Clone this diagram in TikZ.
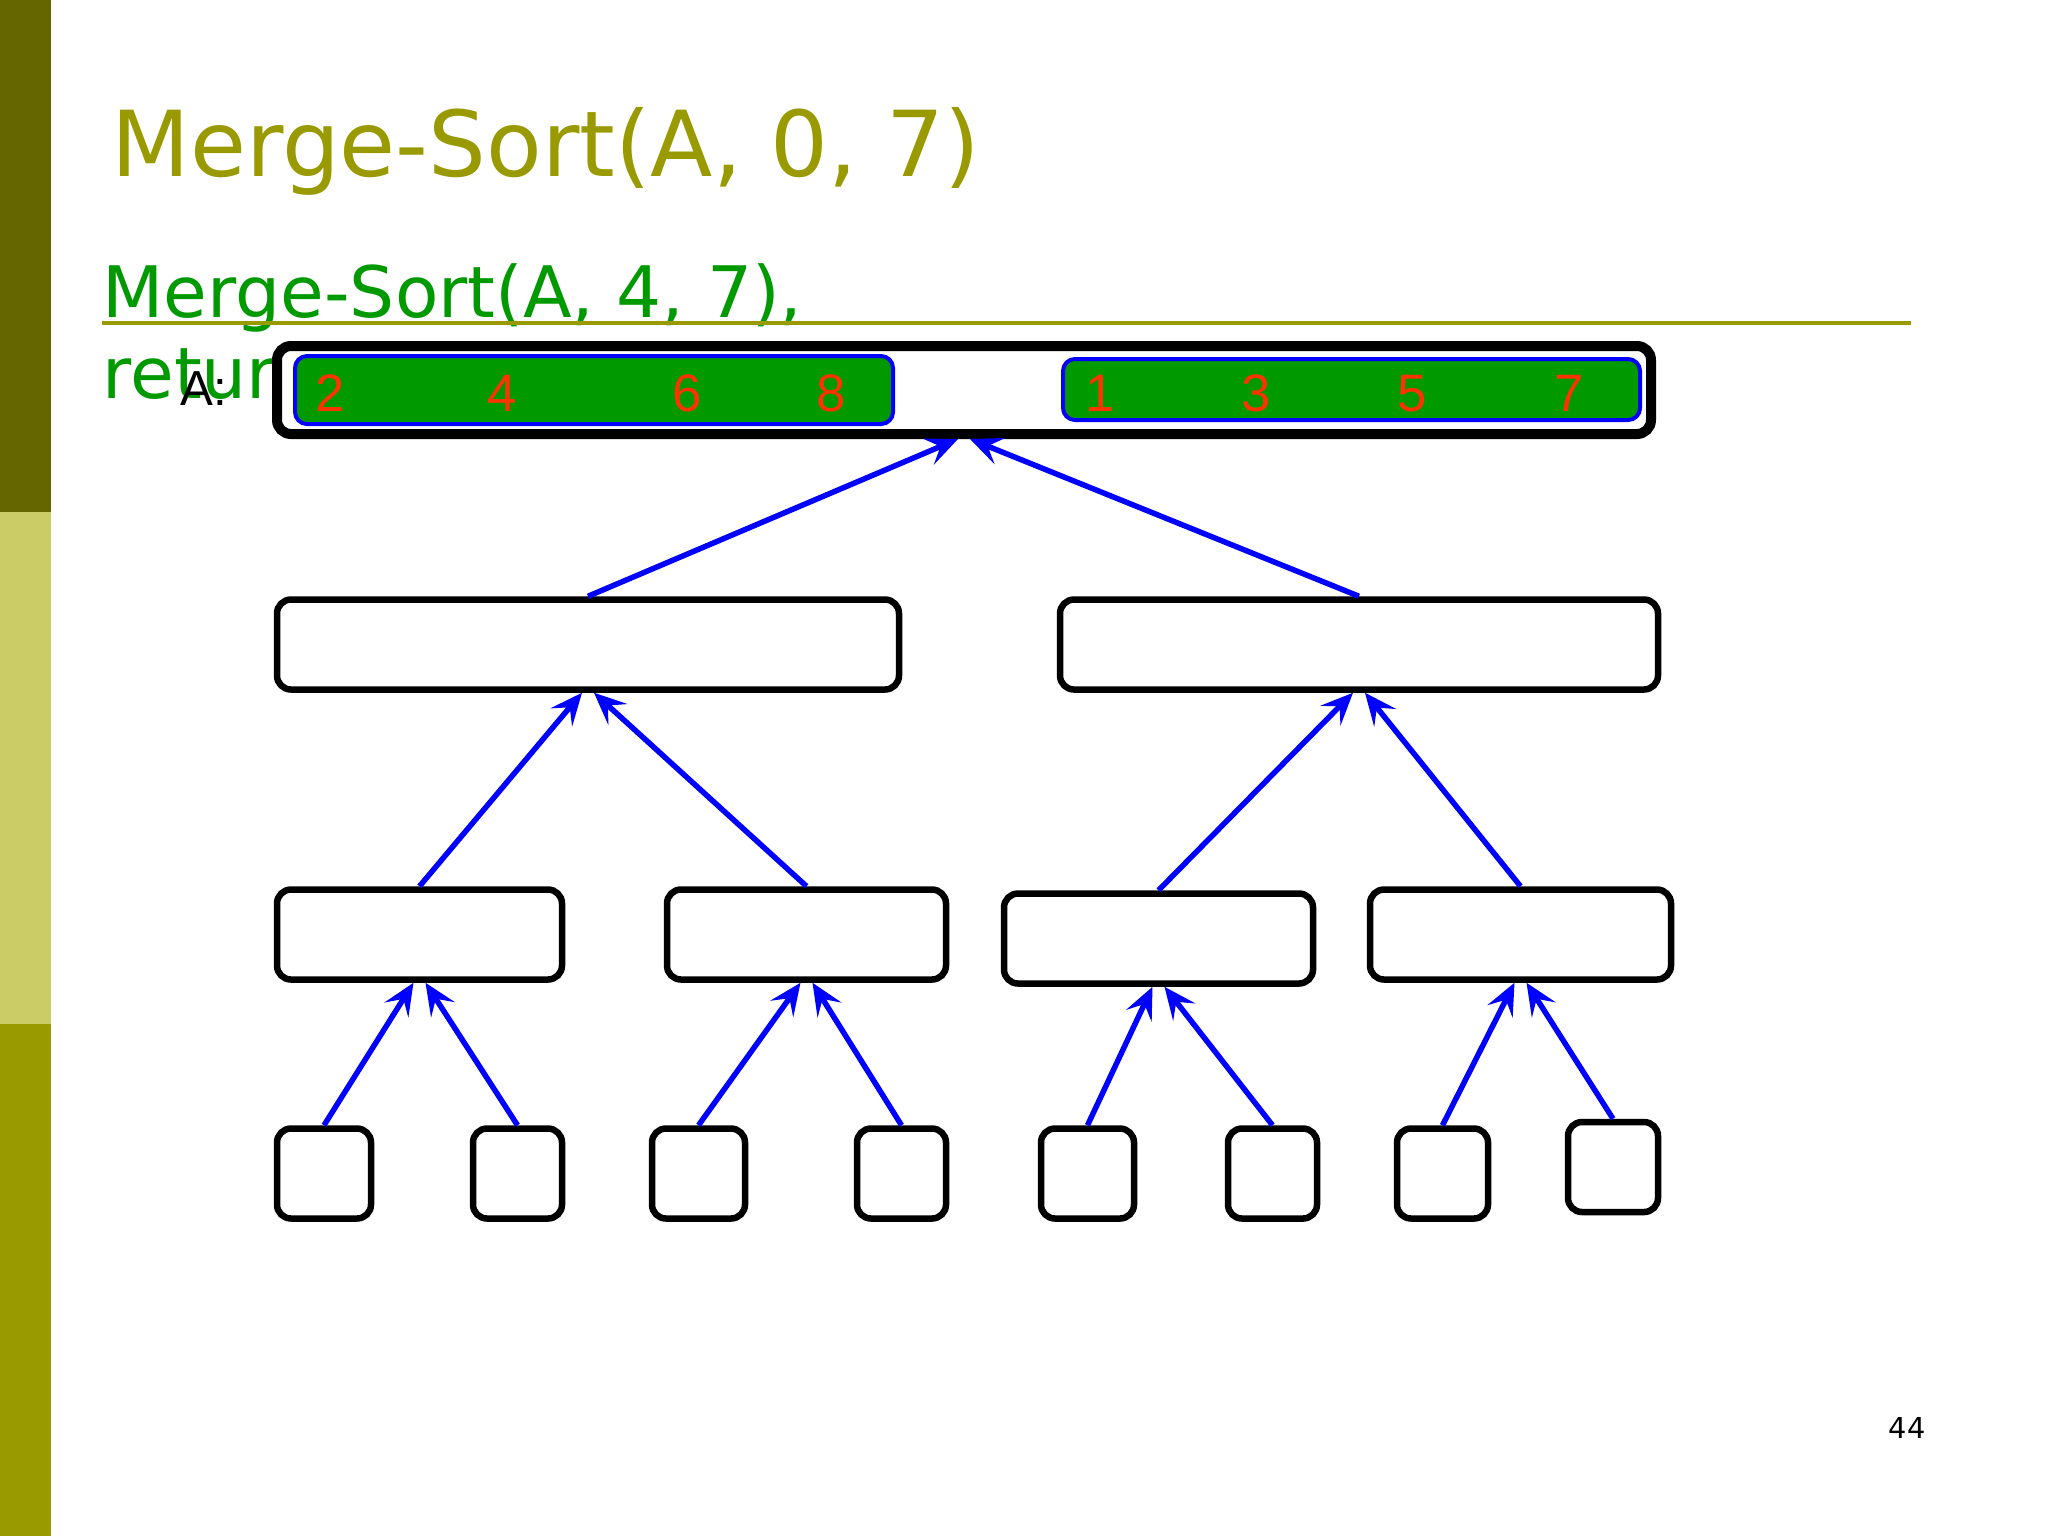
\documentclass[tikz,border=0pt]{standalone}
\usepackage{fontspec}
\setmainfont{DejaVu Sans}
\newfontfamily\arialfont{Liberation Sans}
\usepackage{tikz}
\usetikzlibrary{arrows.meta}
\definecolor{olivedark}{HTML}{666600}
\definecolor{olivelight}{HTML}{CCCC66}
\definecolor{titleolive}{HTML}{999900}
\definecolor{callgreen}{HTML}{009900}
\definecolor{digitred}{HTML}{FF3300}

\begin{document}
\begin{tikzpicture}[x=0.1mm,y=-0.1mm,>={Stealth[length=3.2mm,width=2.8mm,inset=1.3mm]},
  box/.style={draw=black,line width=0.65mm,rounded corners=1.4mm,fill=white,minimum height=9mm,inner sep=0pt},
  run/.style={draw=blue,line width=0.4mm,fill=callgreen,rounded corners=1.2mm,inner sep=0pt},
  digit/.style={anchor=base,inner sep=0pt,font=\arialfont\fontsize{15}{18}\selectfont,text=digitred},
  up/.style={->,draw=blue,line width=0.55mm}]
\useasboundingbox (0,0) rectangle (2048,1536);
\fill[white] (0,0) rectangle (2048,1536);
% side bar
\fill[olivedark] (0,0) rectangle (51,512);
\fill[olivelight] (0,512) rectangle (51,1024);
\fill[titleolive] (0,1024) rectangle (51,1536);
% headings
\node[anchor=base west,inner sep=0pt,text=titleolive,font=\fontsize{25.9}{30}\selectfont] (title) at (111,176) {Merge-Sort(A, 0, 7)};
\node[anchor=base west,inner sep=0pt,text=callgreen,font=\fontsize{20.2}{24}\selectfont] (call) at (102,317) {Merge-Sort(A, 4, 7),};
\node[anchor=base west,inner sep=0pt,text=callgreen,font=\fontsize{20.2}{24}\selectfont] (ret) at (102,398) {return};
\draw[titleolive,line width=0.4mm] (102,323) -- (1911,323);
\node[anchor=base west,inner sep=0pt,font=\arialfont\fontsize{14}{17}\selectfont] (alabel) at (180,405) {A:};
% array A
\node[box,line width=1mm,minimum width=137.4mm,minimum height=8.8mm] (arr) at (964,390) {};
\node[run,minimum width=59.8mm,minimum height=6.8mm] (lo) at (594,390) {};
\node[run,minimum width=57.7mm,minimum height=6.1mm] (hi) at (1351.5,389.5) {};
\node[digit] (d2) at (330,411) {2};
\node[digit] (d4) at (502,411) {4};
\node[digit] (d6) at (687,411) {6};
\node[digit] (d8) at (831,411) {8};
\node[digit] (d1) at (1100,411) {1};
\node[digit] (d3) at (1256,411) {3};
\node[digit] (d5) at (1412,411) {5};
\node[digit] (d7) at (1569,411) {7};
% recursion tree
\node[box,minimum width=62.2mm] (l) at (588,644.5) {};
\node[box,minimum width=59.8mm] (r) at (1359,644.5) {};
\node[box,minimum width=28.5mm] (ll) at (419.5,934.5) {};
\node[box,minimum width=27.9mm] (lr) at (806.5,934.5) {};
\node[box,minimum width=30.9mm] (rl) at (1158.5,938.5) {};
\node[box,minimum width=30.1mm] (rr) at (1520.5,934.5) {};
\node[box,minimum width=9.4mm] (lll) at (324,1173.5) {};
\node[box,minimum width=8.9mm] (llr) at (517.5,1173.5) {};
\node[box,minimum width=9.3mm] (lrl) at (698.5,1173.5) {};
\node[box,minimum width=8.9mm] (lrr) at (901.5,1173.5) {};
\node[box,minimum width=9.3mm] (rll) at (1087.5,1173.5) {};
\node[box,minimum width=8.9mm] (rlr) at (1272.5,1173.5) {};
\node[box,minimum width=9.1mm] (rrl) at (1442.5,1173.5) {};
\node[box,minimum width=9.0mm] (rrr) at (1613,1167) {};
\draw[up] (l.north) -- ([xshift=-0.6mm]arr.south);
\draw[up] (r.north) -- ([xshift=0.6mm]arr.south);
\draw[up] (ll.north) -- ([xshift=-0.6mm]l.south);
\draw[up] (lr.north) -- ([xshift=0.6mm]l.south);
\draw[up] (rl.north) -- ([xshift=-0.6mm]r.south);
\draw[up] (rr.north) -- ([xshift=0.6mm]r.south);
\draw[up] (lll.north) -- ([xshift=-0.6mm]ll.south);
\draw[up] (llr.north) -- ([xshift=0.6mm]ll.south);
\draw[up] (lrl.north) -- ([xshift=-0.6mm]lr.south);
\draw[up] (lrr.north) -- ([xshift=0.6mm]lr.south);
\draw[up] (rll.north) -- ([xshift=-0.6mm]rl.south);
\draw[up] (rlr.north) -- ([xshift=0.6mm]rl.south);
\draw[up] (rrl.north) -- ([xshift=-0.6mm]rr.south);
\draw[up] (rrr.north) -- ([xshift=0.6mm]rr.south);
\node[font=\fontsize{8.2}{10}\selectfont] (page) at (1907,1428) {44};
\end{tikzpicture}
\end{document}
